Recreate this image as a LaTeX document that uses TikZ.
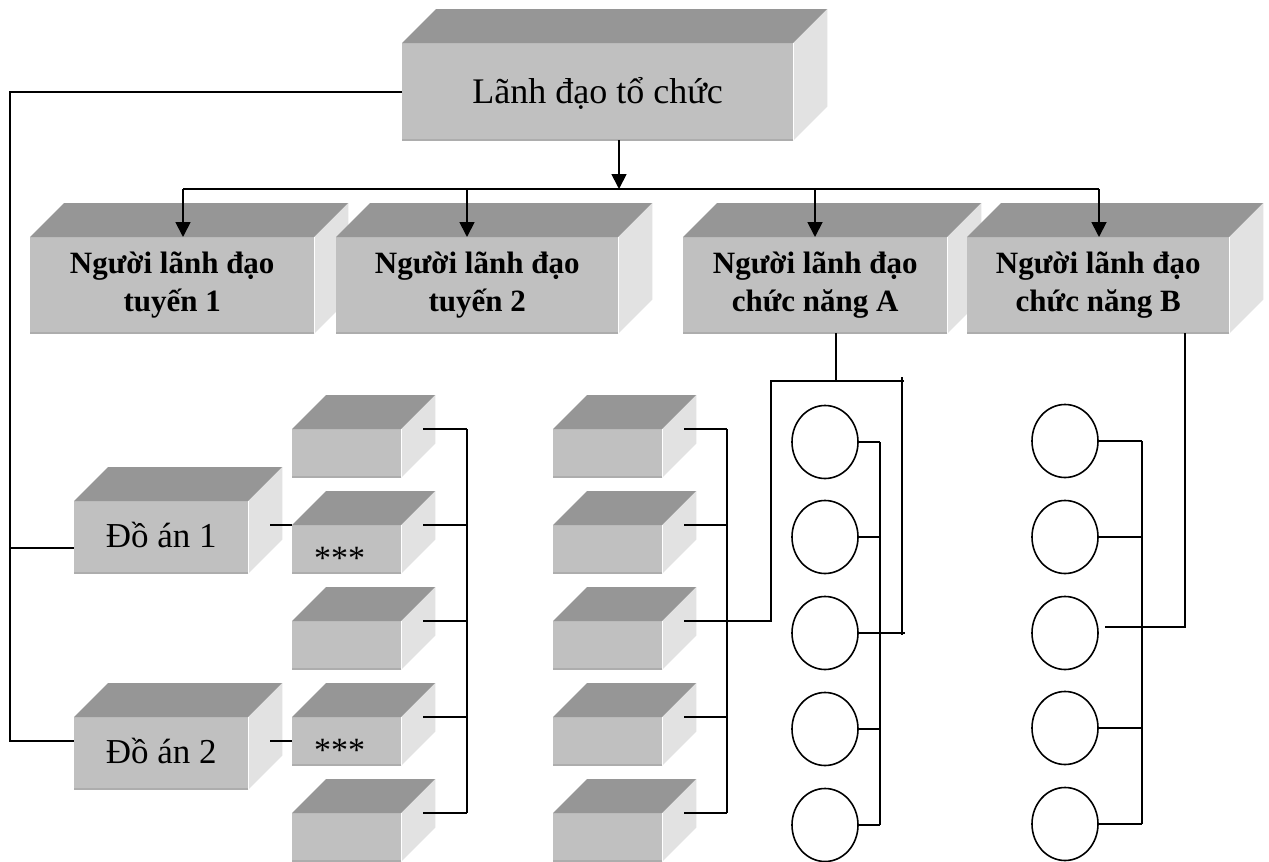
\documentclass[tikz,border=0pt]{standalone}
\usepackage{fontspec}
\setmainfont{Liberation Serif}
\usetikzlibrary{calc,arrows.meta,shapes.geometric}

\definecolor{frontc}{HTML}{C0C0C0}
\definecolor{topc}{HTML}{969696}
\definecolor{sidec}{HTML}{E2E2E2}
\definecolor{rimc}{HTML}{ADADAD}

% top and right faces of a block whose front face is the node #1
\newcommand\blockfaces[1]{%
  \fill[topc] (#1.north west) -- ++(34,-34) -- ($(#1.north east)+(34,-34)$) -- (#1.north east) -- cycle;
  \fill[sidec] (#1.north east) -- ++(34,-34) -- ($(#1.south east)+(34,-34)$) -- (#1.south east) -- cycle;
  \draw[rimc, line width=2pt] (#1.south west) -- (#1.south east);
  \draw[white, line width=1pt] (#1.north east) -- (#1.south east);
}

\begin{document}
\begin{tikzpicture}[x=1pt, y=-1pt,
  front/.style={fill=frontc, draw=none, inner sep=0pt, anchor=north west},
  bigblock/.style={front, minimum height=96pt, align=center,
    font=\bfseries\fontsize{31}{38}\selectfont},
  projblock/.style={front, minimum width=174pt, minimum height=72pt,
    text height=22pt, text depth=2pt, font=\fontsize{35}{40}\selectfont},
  smallblock/.style={front, minimum width=109pt, minimum height=48pt},
  stars/.style={text height=41pt, text depth=0pt, font=\fontsize{34}{40}\selectfont},
  unit/.style={ellipse, draw=black, line width=1.6pt, fill=white,
    minimum width=66pt, minimum height=73pt, inner sep=0pt},
  link/.style={line width=1.8pt, draw=black},
  arrow/.style={link, -{Triangle[length=15pt, width=15pt]}}]

\fill[white] (0,0) rectangle (1269,862);
\useasboundingbox (0,0) rectangle (1269,862);

% ---- head of the organisation
\node[front, minimum width=391pt, minimum height=97pt, text height=25pt, text depth=2pt,
      font=\fontsize{36}{40}\selectfont] (lead) at (402,43) {Lãnh đạo tổ chức};
\blockfaces{lead}

% ---- line and functional managers
\node[bigblock, minimum width=284pt] (line1) at (30,237) {Người lãnh đạo\\tuyến 1};
\blockfaces{line1}
\node[bigblock, minimum width=282pt] (line2) at (336,237) {Người lãnh đạo\\tuyến 2};
\blockfaces{line2}
\node[bigblock, minimum width=264pt] (funcA) at (683,237) {Người lãnh đạo\\chức năng A};
\blockfaces{funcA}
\node[bigblock, minimum width=262pt] (funcB) at (967,237) {Người lãnh đạo\\chức năng B};
\blockfaces{funcB}

% ---- projects
\node[projblock] (da1) at (74,501) {Đồ án 1};
\blockfaces{da1}
\node[projblock] (da2) at (74,717) {Đồ án 2};
\blockfaces{da2}

% ---- project teams
\node[smallblock] (s1) at (292,429) {};
\node[smallblock, stars] (s2) at (292,525) {\hspace*{-14pt}***};
\node[smallblock] (s3) at (292,621) {};
\node[smallblock, stars] (s4) at (292,717) {\hspace*{-14pt}***};
\node[smallblock] (s5) at (292,813) {};
\foreach \n in {s1,s2,s3,s4,s5} {\blockfaces{\n}}

% ---- line units
\foreach \k in {1,...,5} {
  \node[smallblock] (m\k) at (553,{429+96*(\k-1)}) {};
  \blockfaces{m\k}
}

% ---- functional staff
\foreach \k/\y in {1/442,2/537,3/633,4/729,5/825} {
  \node[unit] (ca\k) at (825,\y) {};
}
\foreach \k/\y in {1/441,2/537,3/633,4/728,5/824} {
  \node[unit] (cb\k) at (1065,\y) {};
}

% ---- junction points
\coordinate (rail) at (10,0);
\coordinate (hub) at (619,189);
\coordinate (d1) at (183,189);
\coordinate (d2) at (467,189);
\coordinate (d3) at (815,189);
\coordinate (d4) at (1099,189);
\coordinate (busL) at (467,0);
\coordinate (busM) at (727,0);
\coordinate (busA) at (880,0);
\coordinate (busB) at (1142,0);
\coordinate (kA) at (836,381);
\coordinate (kA1) at (771,381);
\coordinate (kA2) at (904,381);
\coordinate (kA3) at (902,377);
\coordinate (kA4) at (902,635);
\coordinate (kA5) at (905,633);
\coordinate (kB) at (1185,627);
\coordinate (kB1) at (1105,627);
\coordinate (p1) at ($(da1.north west)+(0,47)$);
\coordinate (p2) at ($(da2.north west)+(0,24)$);

% ---- head to projects
\draw[link] (lead.west) -| (rail |- p2) -- (p2);
\draw[link] (rail |- p1) -- (p1);

% ---- head to managers
\draw[arrow] (lead.south -| hub) -- (hub);
\draw[link] (d1) -- (d4);
\draw[arrow] (d1) -- (d1 |- line1.north);
\draw[arrow] (d2) -- (d2 |- line2.north);
\draw[arrow] (d3) -- (d3 |- funcA.north);
\draw[arrow] (d4) -- (d4 |- funcB.north);

% ---- projects to teams
\draw[link] ($(s2.north west)+(-22,0)$) -- (s2.north west);
\draw[link] ($(s4.west)+(-22,0)$) -- (s4.west);

% ---- team bus and line-unit bus
\draw[link] (busL |- s1.north east) -- (busL |- s5.north east);
\draw[link] (busM |- m1.north east) -- (busM |- m5.north east);
\foreach \k in {1,...,5} {
  \draw[link] ($(s\k.north east)+(22,0)$) -- (busL |- s\k.north east);
  \draw[link] ($(m\k.north east)+(22,0)$) -- (busM |- m\k.north east);
}

% ---- functional manager A
\draw[link] (funcA.south -| kA) -- (kA);
\draw[link] (kA2) -- (kA1) |- ($(m3.north east)+(22,0)$);
\draw[link] (kA3) -- (kA4);
\draw[link] (ca3.east) -- (kA5);
\draw[link] (busA |- ca1.east) -- (busA |- ca5.east);
\foreach \k in {1,...,5} {\draw[link] (ca\k.east) -- (busA |- ca\k.east);}

% ---- functional manager B
\draw[link] (funcB.south -| kB) -- (kB) -- (kB1);
\draw[link] (busB |- cb1.east) -- (busB |- cb5.east);
\foreach \k in {1,2,4,5} {\draw[link] (cb\k.east) -- (busB |- cb\k.east);}

\end{tikzpicture}
\end{document}
